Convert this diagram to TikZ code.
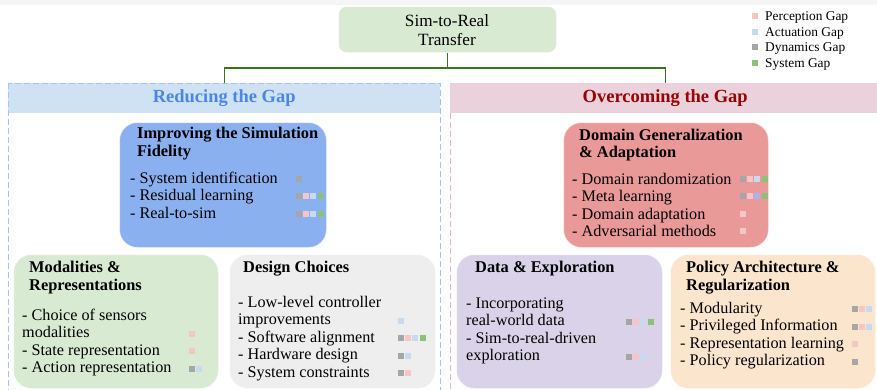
\documentclass[tikz,border=0pt]{standalone}
\usepackage{fontspec}
\setmainfont{Liberation Serif}
\usetikzlibrary{positioning}

% gap colours
\definecolor{pgap}{HTML}{F6C6C6}
\definecolor{agap}{HTML}{C6DAF2}
\definecolor{dgap}{HTML}{A6A6A6}
\definecolor{sgap}{HTML}{8CC278}
\definecolor{mgap}{HTML}{A9B3F7}
% panels and boxes
\definecolor{rootgreen}{HTML}{D9EAD3}
\definecolor{linkgreen}{HTML}{38761D}
\definecolor{blueband}{HTML}{CFE2F3}
\definecolor{bluedash}{HTML}{A4C2F4}
\definecolor{bluetext}{HTML}{4A86E8}
\definecolor{pinkband}{HTML}{EAD1DC}
\definecolor{pinkdash}{HTML}{E6B8CB}
\definecolor{redtext}{HTML}{990000}
\definecolor{fidblue}{HTML}{8AB0F0}
\definecolor{domred}{HTML}{EA9999}
\definecolor{desgray}{HTML}{EEEEEE}
\definecolor{datpurple}{HTML}{D9D2E9}
\definecolor{polorange}{HTML}{FCE5CD}

\tikzset{
  catbox/.style={rounded corners=18pt, draw=white, draw opacity=0.5, line width=1pt,
    anchor=north west, inner sep=0pt},
  band/.style={anchor=north west, inner sep=0pt, minimum height=30pt,
    font=\fontsize{18.5}{21}\selectfont\bfseries},
  head/.style={anchor=base west, inner sep=0pt, font=\fontsize{16.4}{18}\selectfont\bfseries},
  item/.style={anchor=base west, inner sep=0pt, font=\fontsize{16.2}{17.5}\selectfont},
  key/.style={anchor=base west, inner sep=0pt, font=\fontsize{13.4}{15}\selectfont},
  link/.style={draw=linkgreen, line width=1.1pt},
  panel/.style={line width=1pt, dash pattern=on 6pt off 3pt},
}

% row of gap markers: x and y of the first marker centre, colours
\newcommand{\gapmarks}[3]{%
  \foreach \mk [count=\k from 0] in {#3}
    \fill[fill=\mk] (#1+7.2*\k-3, #2-3) rectangle ++(6,6);
}

\begin{document}
\begin{tikzpicture}[x=1pt, y=-1pt]
    \useasboundingbox (0,0) rectangle (877,389);
    \fill[white] (0,0) rectangle (877,389);
    \fill[black!4] (0,0) rectangle (877,5);

    % --- Root ---
    \node[catbox, rounded corners=8pt, fill=rootgreen, minimum width=218pt, minimum height=46pt] (root) at (338,6) {};
    \node[item, anchor=base, font=\fontsize{17.2}{19}\selectfont] (root-1) at (447,26.5) {Sim-to-Real};
    \node[item, anchor=base, font=\fontsize{17.2}{19}\selectfont] (root-2) at (447,45) {Transfer};

    % --- Legend ---
    \foreach \txt/\gap [count=\i] in {Perception Gap/pgap, Actuation Gap/agap, Dynamics Gap/dgap, System Gap/sgap} {
        \gapmarks{755}{0.5+15.5*\i}{\gap}
        \node[key] (key-\i) at (765, 5+15.5*\i) {\txt};
    }

    % --- Panels ---
    \node[band, fill=blueband, text=bluetext, minimum width=432pt] (reduce) at (8,83) {Reducing the Gap};
    \node[band, fill=pinkband, text=redtext, minimum width=430pt] (overcome) at (450,83) {Overcoming the Gap};
    \draw[panel, bluedash] (reduce.north west) rectangle (440,400);
    \draw[panel, pinkdash] (overcome.south west) -- (450,400);

    % --- Links ---
    \coordinate (split) at (root.south |- 0,68);
    \draw[link] (root.south) -- (split);
    \draw[link] (reduce.north) |- (split) -| (overcome.north);

    % --- Improving the Simulation Fidelity ---
    \node[catbox, fill=fidblue, minimum width=207pt, minimum height=125pt] (fid) at (119,122) {};
    \node[head] (fid-t1) at (137,138) {Improving the Simulation};
    \node[head] (fid-t2) at (137,156) {Fidelity};
    \foreach \txt [count=\i] in {- System identification, - Residual learning, - Real-to-sim}
        \node[item] (fid-\i) at (130, 165.5+17.5*\i) {\txt};
    \gapmarks{299}{178.5}{dgap}
    \gapmarks{299}{196}{dgap,pgap,agap,sgap}
    \gapmarks{299}{213.5}{dgap,pgap,agap,sgap}

    % --- Domain Generalization & Adaptation ---
    \node[catbox, fill=domred, minimum width=205pt, minimum height=125pt] (dom) at (563,122) {};
    \node[head] (dom-t1) at (579,140) {Domain Generalization};
    \node[head] (dom-t2) at (579,157.5) {\& Adaptation};
    \foreach \txt [count=\i] in {- Domain randomization, - Meta learning, - Domain adaptation, - Adversarial methods}
        \node[item] (dom-\i) at (572, 166.5+17.5*\i) {\txt};
    \gapmarks{743}{178.5}{dgap,pgap,agap,sgap}
    \gapmarks{743}{196}{dgap,pgap,mgap,sgap}
    \gapmarks{743}{213.5}{pgap}
    \gapmarks{743}{231}{pgap}

    % --- Modalities & Representations ---
    \node[catbox, fill=rootgreen, minimum width=205pt, minimum height=134pt] (mod) at (13,254) {};
    \node[head] (mod-t1) at (29,272) {Modalities \&};
    \node[head] (mod-t2) at (29,290) {Representations};
    \foreach \txt [count=\i] in {- Choice of sensors, modalities, - State representation, - Action representation}
        \node[item] (mod-\i) at (22, 302.5+17.5*\i) {\txt};
    \gapmarks{192}{333.5}{pgap}
    \gapmarks{192}{351}{pgap}
    \gapmarks{192}{368.5}{dgap,agap}

    % --- Design Choices ---
    \node[catbox, fill=desgray, minimum width=206pt, minimum height=134pt] (des) at (229,254) {};
    \node[head] (des-t1) at (243,272) {Design Choices};
    \foreach \txt [count=\i] in {- Low-level controller, improvements, - Software alignment, - Hardware design, - System constraints}
        \node[item] (des-\i) at (238, 289.5+17.5*\i) {\txt};
    \gapmarks{401}{320.5}{agap}
    \gapmarks{401}{338}{dgap,pgap,agap,sgap}
    \gapmarks{401}{355.5}{dgap,agap}
    \gapmarks{401}{373}{dgap,pgap}

    % --- Data & Exploration ---
    \node[catbox, fill=datpurple, minimum width=206pt, minimum height=134pt] (dat) at (456,254) {};
    \node[head] (dat-t1) at (475,272) {Data \& Exploration};
    \foreach \txt [count=\i] in {- Incorporating, real-world data, - Sim-to-real-driven, exploration}
        \node[item] (dat-\i) at (466, 290.5+17.5*\i) {\txt};
    \gapmarks{629}{321.5}{dgap,pgap,agap,sgap}
    \gapmarks{629}{356.5}{dgap,pgap,agap}

    % --- Policy Architecture & Regularization ---
    \node[catbox, fill=polorange, minimum width=205pt, minimum height=134pt] (pol) at (670,254) {};
    \node[head] (pol-t1) at (686,272) {Policy Architecture \&};
    \node[head] (pol-t2) at (686,290) {Regularization};
    \foreach \txt [count=\i] in {- Modularity, - Privileged Information, - Representation learning, - Policy regularization}
        \node[item] (pol-\i) at (680, 295.5+17.5*\i) {\txt};
    \gapmarks{855}{309}{dgap,pgap,agap}
    \gapmarks{855}{326.5}{dgap,pgap,agap}
    \gapmarks{855}{344}{pgap}
    \gapmarks{855}{361.5}{dgap}

\end{tikzpicture}
\end{document}
